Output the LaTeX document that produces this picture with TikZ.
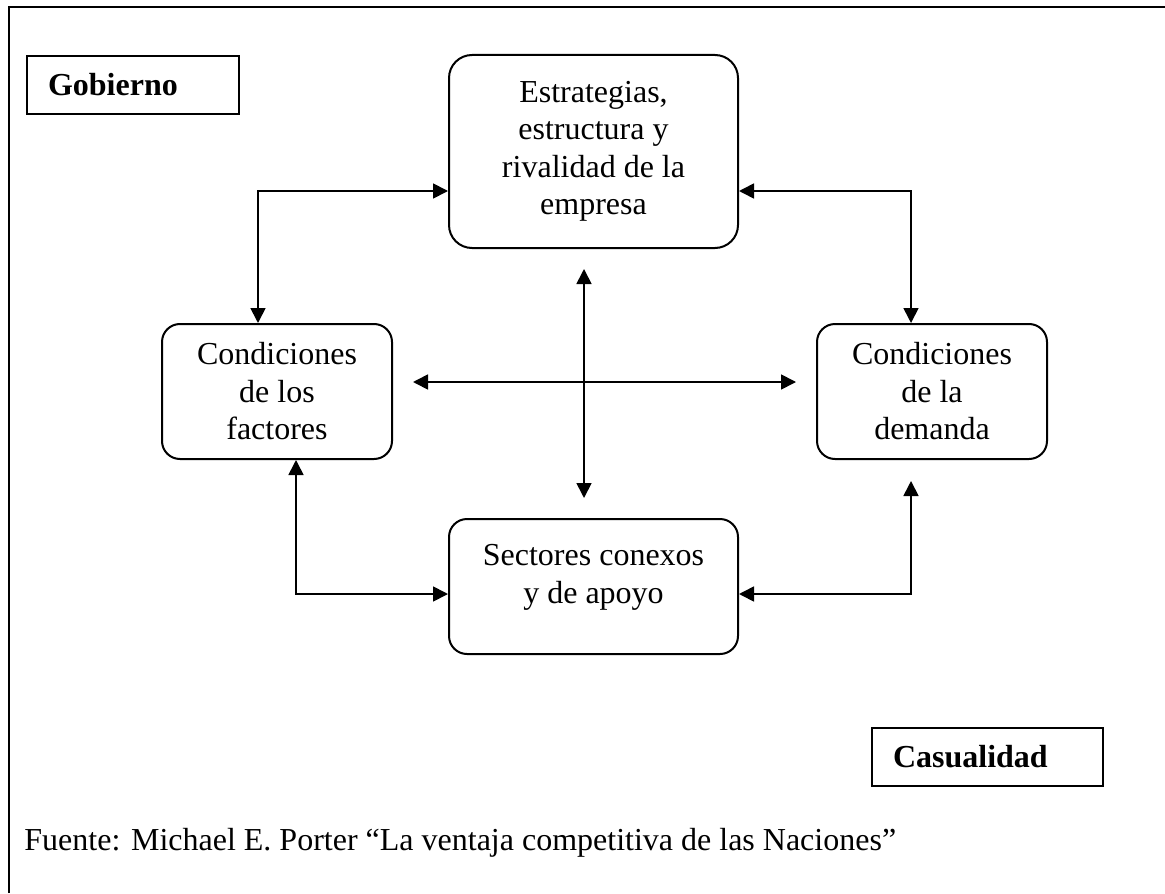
\documentclass[tikz,border=0pt]{standalone}
\usepackage{fontspec}
\setmainfont{Liberation Serif}
\usetikzlibrary{positioning, arrows.meta}
\tikzset{
  block/.style={draw, line width=1pt, rounded corners=9pt, align=center, inner sep=0pt, font=\fontsize{16}{18.75}\selectfont},
  tag/.style={draw, line width=0.8pt, align=left, inner xsep=10.5pt, inner ysep=0pt, minimum height=29pt, font=\fontsize{16}{18.75}\selectfont\bfseries},
  link/.style={{Triangle[length=7.5pt,width=7.5pt]}-{Triangle[length=7.5pt,width=7.5pt]}, line width=0.85pt}
}
\begin{document}
\begin{tikzpicture}[x=0.5pt,y=-0.5pt]
\useasboundingbox (0,0) rectangle (1165,893);
\draw[line width=1.2pt] (9,893) |- (1165,7);
\node[tag, text width=85pt] (gob) at (133,85) {Gobierno};
\node[tag, text width=94.5pt, line width=1pt] (cas) at (987.5,757) {Casualidad};
\node[block, rounded corners=11.5pt, minimum width=144.5pt, minimum height=96.5pt] (est) at (593.5,151.5) {Estrategias,\\ estructura y\\ rivalidad de la\\ empresa};
\node[block, minimum width=115pt, minimum height=67.5pt] (fac) at (277,391.5) {Condiciones\\ de los\\ factores};
\node[block, minimum width=115pt, minimum height=67.5pt, right=211.5pt of fac] (dem) {Condiciones\\ de la\\ demanda};
\node[block, minimum width=144.5pt, minimum height=67.5pt, text depth=12.5pt, below=134.5pt of est] (sec) {Sectores conexos\\ y de apoyo};
\node[anchor=base west, inner sep=0pt, font=\fontsize{16}{18.75}\selectfont] (src) at (24,850) {Fuente: Michael E. Porter “La ventaja competitiva de las Naciones”};
\draw[link] (fac.north -| 258,0) |- (est.west |- 0,191);
\draw[link] (dem.north -| 911,0) |- (est.east |- 0,191);
\draw[link] (fac.south -| 296,0) |- (sec.west |- 0,594);
\draw[link, shorten <=10.5pt] (dem.south -| 911,0) |- (sec.east |- 0,594);
\draw[link, shorten <=10pt, shorten >=10pt] (est.south -| 584,0) -- (sec.north -| 584,0);
\draw[link, shorten <=10pt, shorten >=10pt] (fac.east |- 0,382) -- (dem.west |- 0,382);
\end{tikzpicture}
\end{document}
